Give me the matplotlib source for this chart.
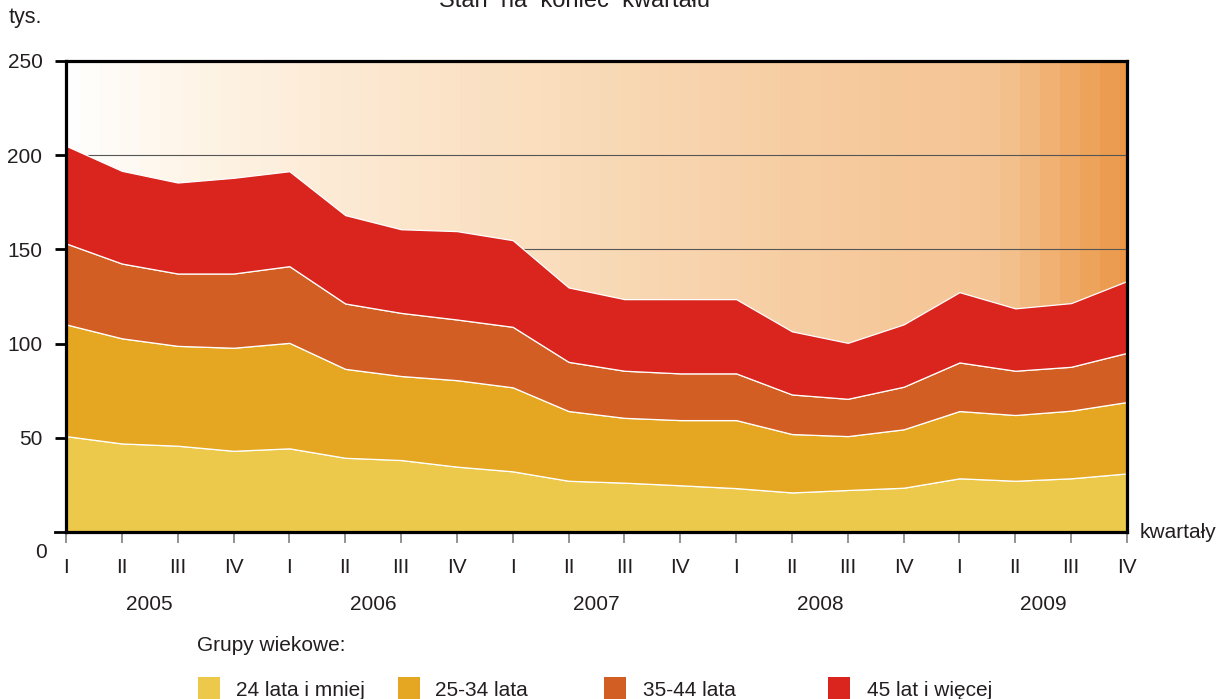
import numpy as np
import matplotlib
matplotlib.use("Agg")
import matplotlib.pyplot as plt
from matplotlib.patches import Rectangle
import matplotlib.transforms as mtransforms

# ---- data (thousands, end of quarter) ----
quarters = ["I", "II", "III", "IV"] * 5
years = ["2005", "2006", "2007", "2008", "2009"]
series_names = ["24 lata i mniej", "25-34 lata", "35-44 lata", "45 lat i więcej"]
age_24 = [50.9, 47.0, 45.8, 43.1, 44.4, 39.4, 38.2, 34.7, 32.2, 27.2,
          26.2, 24.8, 23.3, 21.0, 22.3, 23.5, 28.5, 27.2, 28.5, 31.1]
age_25_34 = [59.3, 55.8, 53.0, 54.7, 56.0, 47.2, 44.6, 45.9, 44.6, 37.0,
             34.4, 34.6, 36.1, 31.0, 28.6, 31.0, 35.7, 34.9, 35.9, 37.9]
age_35_44 = [43.0, 39.7, 38.4, 39.4, 40.7, 34.7, 33.5, 32.2, 32.1, 26.1,
             25.0, 24.8, 24.8, 21.0, 19.8, 22.6, 25.8, 23.5, 23.3, 26.1]
age_45 = [51.8, 49.2, 48.3, 50.8, 50.4, 46.9, 44.4, 46.9, 46.0, 39.5,
          38.0, 39.4, 39.4, 33.5, 29.7, 33.1, 37.3, 33.1, 33.8, 38.1]
yticks = [50, 100, 150, 200, 250]
gridlines = [150, 200]

colors = ["#ECC94A", "#E5A722", "#D35E23", "#D9251E"]
txt = "#231f20"
FS = 15
plt.rcParams['font.family'] = ['Liberation Sans', 'DejaVu Sans']

W, H = 1229, 699
fig = plt.figure(figsize=(W / 100, H / 100), dpi=100)
L, R, T, B = 66, 1127, 61, 532
ax = fig.add_axes([L / W, 1 - B / H, (R - L) / W, (B - T) / H])

x = np.arange(len(age_24))
ax.set_xlim(0, len(x) - 1)
ax.set_ylim(0, 250)

# background gradient (pixel stops -> colours)
stops_px = [66, 200, 400, 600, 850, 1000, 1020, 1127]
stops_rgb = [(255, 255, 255), (254, 244, 230), (252, 230, 205), (249, 218, 183),
             (246, 202, 157), (245, 196, 148), (242, 188, 133), (236, 150, 70)]
npx = R - L
px = np.arange(npx) + L
band = 20
pxq = (px // band) * band + band / 2
rgb = np.stack([np.interp(pxq, stops_px, [c[i] for c in stops_rgb]) for i in range(3)], axis=-1) / 255
ax.imshow(rgb[np.newaxis, :, :], extent=[0, len(x) - 1, 0, 250], aspect='auto',
          zorder=0, interpolation='nearest')

for g in gridlines:
    ax.axhline(g, color='#555555', lw=0.8, zorder=1)

ax.stackplot(x, age_24, age_25_34, age_35_44, age_45, colors=colors,
             edgecolor='white', linewidth=0.9, zorder=2)

for s in ax.spines.values():
    s.set_linewidth(2.3)
    s.set_color('black')
    s.set_zorder(5)

ax.set_yticks(yticks)
ax.set_yticklabels([str(v) for v in yticks])
ax.tick_params(axis='y', direction='out', length=8, width=2, color='black',
               pad=9, labelsize=FS, labelcolor=txt)
ax.set_xticks(x)
ax.set_xticklabels(quarters)
ax.tick_params(axis='x', direction='out', length=8, width=1.2, color='#808080',
               pad=10.5, labelsize=FS, labelcolor=txt)

# "0" label (offset lower as in original)
ax.text(-0.018, (B - 553) / (B - T), "0", transform=ax.transAxes, ha='right',
        va='center', fontsize=FS, color=txt)
ax.plot([-0.0105, 0], [0, 0], transform=ax.transAxes, color='black', lw=2, clip_on=False, zorder=6)

trans = mtransforms.blended_transform_factory(ax.transData, ax.transAxes)
for k, yr in enumerate(years):
    ax.text(4 * k + 1.5, (B - 604) / (B - T), yr, transform=trans, ha='center',
            va='center', fontsize=FS, color=txt)

ax.text((1140 - L) / (R - L), 0.0, "kwartały", transform=ax.transAxes, ha='left',
        va='center', fontsize=FS, color=txt)

fig.text(9 / W, 1 - 18 / H, "tys.", ha='left', va='center', fontsize=FS + 0.5, color=txt)
fig.text(439 / W, 1 - 7 / H, "Stan  na  koniec  kwartału", ha='left', va='baseline',
         fontsize=17, color=txt)

# legend
fig.text(197 / W, (H - 651) / H, "Grupy wiekowe:", ha='left', va='baseline',
         fontsize=FS, color=txt)
sq_x = [198, 398, 604, 828]
tx_x = [236, 435, 643, 867]
for c, name, sx, tx in zip(colors, series_names, sq_x, tx_x):
    fig.patches.append(Rectangle((sx / W, -10 / H), 22 / W, 32 / H, transform=fig.transFigure,
                                 facecolor=c, edgecolor='none'))
    fig.text(tx / W, 3 / H, name, ha='left', va='baseline', fontsize=FS, color=txt)

fig.savefig("out.png", dpi=100)
